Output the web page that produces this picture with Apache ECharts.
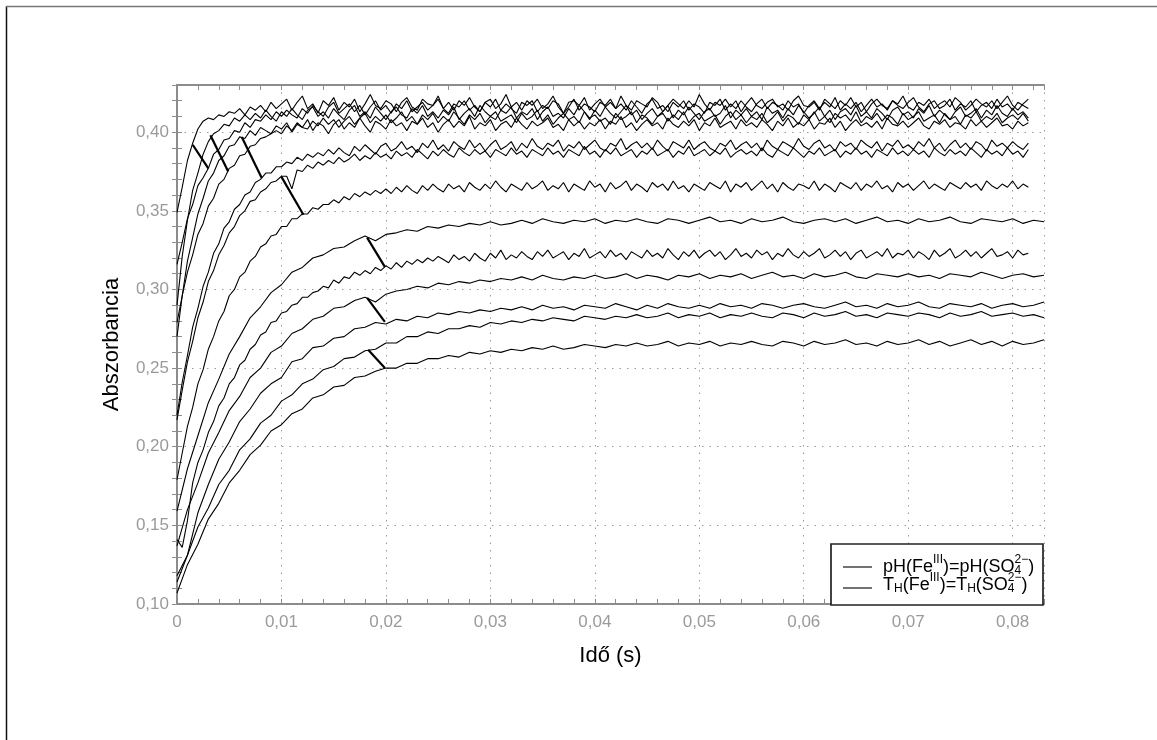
<!DOCTYPE html>
<html>
<head>
<meta charset="utf-8">
<script src="https://cdn.jsdelivr.net/npm/echarts@6/dist/echarts.min.js"></script>
<style>
  html, body { margin: 0; padding: 0; background: #fff; }
  #chart { width: 1157px; height: 740px; }
</style>
</head>
<body>
<div id="chart"></div>
<script>
// Absorbance traces, stored in milli-absorbance units (A x 1000).
// Densely sampled runs: one reading every 0.5 ms starting at t = 0.
const FINE_STEP_S = 0.0005;
// Sparsely sampled runs: one reading every 1 ms starting at t = 0.
const COARSE_STEP_S = 0.001;

const trace01 = [
  349,365,382,393,402,407,409,408,411,410,
  413,412,415,411,416,414,417,413,419,415,
  418,421,414,419,423,415,418,412,420,417,
  422,414,419,416,421,413,418,424,417,415,
  420,418,413,419,422,416,414,421,418,417,
  423,415,419,414,420,417,422,416,413,419,
  421,415,418,424,416,419,414,420,417,421,
  415,418,423,416,412,419,420,417,422,414,
  418,421,416,419,415,423,417,414,420,418,
  416,422,419,413,417,421,418,415,420,416,
  424,418,414,419,417,421,416,420,413,418,
  422,417,415,419,421,416,418,414,420,423,
  417,416,419,414,421,418,415,420,417,422,
  416,419,413,418,421,417,415,420,418,423,
  416,414,419,417,421,415,418,420,416,422,
  419,414,417,421,418,416,420,415,419,423,
  417,414,418,421
];
const trace02 = [
  316,330,345,354,366,371,377,386,389,395,
  396,401,400,406,403,408,407,411,408,413,
  410,414,411,409,415,412,417,413,410,416,
  419,412,415,418,413,417,411,416,420,414,
  417,412,418,415,420,413,416,419,414,417,
  421,415,412,418,416,420,414,417,413,419,
  416,421,414,418,415,412,419,417,420,413,
  417,415,420,418,412,416,421,414,418,416,
  413,419,417,421,415,418,414,420,416,412,
  418,421,415,417,413,419,416,420,414,418,
  416,412,419,417,421,414,418,415,420,416,
  413,418,421,415,419,417,414,420,416,418,
  412,417,420,415,419,416,422,414,418,415,
  419,413,417,421,416,418,414,420,417,415,
  419,422,416,413,418,420,415,417,421,414,
  418,416,420,413,417,419,415,421,416,418,
  414,419,417,415
];
const trace03 = [
  290,321,344,363,374,386,394,399,401,405,
  404,409,407,411,408,412,409,414,410,407,
  413,410,415,411,408,414,416,410,413,409,
  415,411,408,414,417,410,413,409,416,412,
  408,413,416,411,409,415,412,417,410,413,
  409,414,411,416,408,412,415,410,417,413,
  410,408,414,412,416,409,413,411,415,408,
  413,416,410,412,409,415,411,417,413,408,
  414,410,416,412,409,413,417,411,414,408,
  412,415,410,413,417,409,414,411,416,412,
  408,413,415,410,412,417,409,414,411,415,
  410,413,408,416,412,414,409,415,411,417,
  413,409,412,416,410,414,408,413,415,411,
  417,410,413,409,415,412,408,414,416,411,
  413,409,415,412,417,410,414,411,408,413,
  416,410,412,415,409,414,411,417,412,410,
  415,411,413,409
];
const trace04 = [
  279,296,311,322,335,342,353,358,367,370,
  377,379,385,386,391,392,396,397,399,401,
  399,404,401,406,403,402,407,404,409,405,
  408,403,407,410,405,409,412,406,410,407,
  411,406,409,413,407,410,405,411,408,412,
  406,410,407,413,409,405,411,408,412,406,
  410,413,407,409,411,406,412,408,410,414,
  407,411,405,409,412,408,410,406,413,409,
  411,407,409,405,412,408,410,413,406,411,
  409,405,410,412,407,411,408,413,406,410,
  412,407,409,411,405,410,413,408,411,406,
  410,408,412,406,409,413,407,411,409,405,
  411,408,413,407,410,406,412,409,411,407,
  413,406,410,408,412,407,411,409,405,412,
  408,410,413,407,409,411,406,412,408,410,
  405,411,409,413,407,410,408,412,406,409,
  411,408,412,407
];
const trace05 = [
  270,296,318,333,348,358,369,374,382,385,
  391,392,397,396,401,398,403,401,399,404,
  402,406,400,405,403,408,401,406,404,399,
  405,408,402,406,403,409,404,400,407,405,
  402,408,404,406,401,407,405,409,403,406,
  400,405,408,403,407,404,410,402,406,404,
  408,401,405,407,403,409,405,402,407,404,
  406,409,403,405,401,408,404,407,402,406,
  404,408,402,407,405,410,403,406,401,405,
  408,404,406,402,409,405,403,407,404,408,
  401,406,404,409,403,405,407,402,408,404,
  406,403,408,405,401,407,404,409,403,406,
  404,408,402,406,405,409,403,407,401,405,
  408,404,406,403,407,402,409,405,404,407,
  403,406,409,404,402,407,405,408,403,406,
  405,402,408,404,407,403,406,409,404,405,
  402,407,404,406
];
const trace06 = [
  220,241,258,276,288,302,311,323,329,339,
  343,351,354,360,362,368,370,374,374,378,
  378,381,380,384,382,386,384,387,385,389,
  386,390,387,385,391,388,392,389,386,391,
  393,388,390,394,389,391,387,393,390,395,
  389,392,388,394,391,389,395,390,393,388,
  392,395,389,391,394,388,393,390,396,391,
  389,393,391,395,388,392,390,394,389,392,
  395,390,388,393,391,396,389,392,394,390,
  393,389,395,391,388,394,392,390,395,389,
  392,394,390,388,393,391,395,389,392,394,
  390,393,388,395,391,389,394,392,390,396,
  391,389,393,395,390,392,388,394,391,393,
  389,395,392,390,394,388,393,391,395,390,
  392,389,394,391,396,390,393,388,392,395,
  390,393,389,394,392,388,395,391,393,390,
  394,391,389,393
];
const trace07 = [
  217,236,254,267,282,292,305,312,322,328,
  336,340,347,350,356,357,362,364,368,369,
  372,372,364,376,375,379,377,381,379,382,
  380,384,381,383,386,382,385,383,387,384,
  386,383,388,385,387,384,389,386,383,388,
  385,389,386,384,390,387,385,389,386,388,
  384,389,387,385,390,386,388,384,389,387,
  385,390,386,388,384,389,387,385,391,386,
  388,384,389,386,390,385,387,389,384,388,
  386,390,385,387,389,384,388,386,391,385,
  387,389,385,388,386,390,384,387,389,386,
  388,385,390,386,384,389,387,385,390,387,
  384,388,386,390,385,387,389,384,388,386,
  390,386,388,384,389,387,385,390,386,388,
  385,389,386,388,384,390,387,385,389,386,
  388,385,390,387,384,389,386,388,385,390,
  386,388,384,389
];
const trace08 = [
  179,196,213,225,240,249,262,270,280,286,
  296,300,308,311,318,321,327,329,334,335,
  340,340,345,345,348,348,352,351,354,354,
  357,355,359,357,361,359,362,360,363,361,
  364,361,365,362,366,363,361,366,363,367,
  364,362,367,364,366,362,368,365,363,367,
  364,369,365,362,367,365,363,368,364,366,
  369,363,366,364,368,362,367,365,363,369,
  365,367,362,368,364,366,369,363,367,365,
  362,368,365,367,363,369,364,366,362,367,
  365,363,368,366,364,369,362,367,365,368,
  363,366,369,364,367,362,368,365,363,367,
  366,364,369,363,367,365,362,368,366,364,
  368,363,367,365,369,364,366,362,368,365,
  367,363,366,369,364,367,365,363,368,366,
  364,368,365,367,363,369,366,364,367,365,
  369,364,367,365
];
const trace09 = [
  159,186,207,228,243,259,270,282,289,298,
  303,311,314,320,322,326,327,331,334,331,
  335,336,338,337,340,339,341,340,342,341,
  343,341,342,344,342,345,343,342,344,343,
  345,342,344,343,345,343,342,345,344,342,
  344,346,343,344,342,345,343,344,346,343,
  342,344,345,343,345,342,344,346,343,344,
  342,345,343,344,346,343,342,345,344,343,
  345,342,344,343
];
const trace10 = [
  141,136,153,177,190,198,209,216,226,231,
  240,244,252,255,262,265,271,273,279,280,
  285,286,290,291,295,295,298,299,302,301,
  306,304,308,307,311,309,312,310,314,312,
  315,313,317,314,318,316,319,317,320,318,
  321,319,317,322,319,321,318,323,320,318,
  323,320,325,319,322,320,324,321,319,324,
  321,325,320,322,324,319,323,321,326,320,
  322,324,320,325,321,323,319,324,322,320,
  325,321,323,320,326,322,319,324,321,325,
  320,323,325,321,324,319,322,326,321,323,
  320,325,322,324,319,323,321,326,322,320,
  324,321,323,326,320,322,325,321,324,319,
  323,325,320,322,324,321,326,320,323,322,
  325,320,324,322,319,325,321,323,326,320,
  322,325,321,324,320,323,326,321,322,324,
  320,325,322,323
];
const trace11 = [
  137,160,177,196,209,223,232,244,250,260,
  264,272,275,281,283,288,289,293,295,292,
  297,299,300,302,301,304,303,305,304,306,
  305,307,306,308,306,309,307,306,308,307,
  309,307,308,310,307,309,308,306,309,308,
  310,307,309,308,310,307,309,311,308,309,
  307,310,308,309,311,308,307,310,309,308,
  310,308,309,307,310,309,308,311,309,307,
  309,310,308,309
];
const trace12 = [
  118,131,158,176,192,203,216,224,234,240,
  244,254,256,263,264,269,270,275,276,279,
  278,281,280,283,282,285,284,286,285,287,
  286,288,287,289,287,290,288,289,287,290,
  289,288,291,289,287,290,288,291,289,288,
  290,288,291,289,290,288,291,290,288,290,
  291,289,288,290,292,289,290,288,291,289,
  290,292,289,288,291,290,289,291,288,290,
  291,289,290,292
];
const trace13 = [
  114,131,149,161,176,185,198,205,215,220,
  229,233,240,243,249,251,256,257,261,262,
  266,266,270,270,273,272,275,275,277,276,
  279,278,280,279,281,280,282,281,280,283,
  282,281,283,282,284,282,283,285,282,284,
  283,285,282,284,283,285,283,282,285,284,
  282,285,283,284,286,283,284,282,285,284,
  283,285,284,282,285,283,284,286,283,284,
  285,283,284,282
];
const trace14 = [
  107,125,138,154,164,177,185,195,201,210,
  214,221,224,231,233,238,239,244,245,248,
  250,250,253,253,256,256,258,257,260,259,
  261,260,262,261,263,262,264,262,263,265,
  264,263,265,264,266,264,265,267,264,266,
  265,267,264,266,265,267,265,264,267,266,
  264,267,265,266,268,265,266,264,267,265,
  266,268,265,267,264,266,268,265,267,264,
  267,265,266,268
];

const fineTraces = [trace01, trace02, trace03, trace04, trace05, trace06, trace07, trace08, trace10];
const coarseTraces = [trace09, trace11, trace12, trace13, trace14];

// Arrows between paired traces: [t_start (s), A_start, t_end (s), A_end]
const arrows = [
  [0.0015, 0.392, 0.0030, 0.377],
  [0.0032, 0.398, 0.0049, 0.375],
  [0.0062, 0.397, 0.0081, 0.371],
  [0.0100, 0.3716, 0.0121, 0.3475],
  [0.0182, 0.333, 0.0199, 0.3144],
  [0.0182, 0.2947, 0.0199, 0.2794],
  [0.0183, 0.2616, 0.0199, 0.2501]
];

// Axis ranges
const X_MIN = 0, X_MAX = 0.083, X_MAJOR = 0.01, X_MINOR = 0.002;
const Y_MIN = 0.10, Y_MAX = 0.43, Y_MAJOR = 0.05, Y_MINOR = 0.01;

const legendLabels = [
  // [text, font size, baseline shift, no-advance]
  [['pH(Fe', 18, 0], ['III', 12, -9], [')=pH(SO', 18, 0], ['4', 12, 2, true], ['2\u2212', 12, -9], [')', 18, 0]],
  [['T', 18, 0], ['H', 12, 2], ['(Fe', 18, 0], ['III', 12, -9], [')=T', 18, 0], ['H', 12, 2], ['(SO', 18, 0], ['4', 12, 2, true], ['2\u2212', 12, -9], [')', 18, 0]]
];

const FONT = '"Liberation Sans", Arial, Helvetica, sans-serif';
const AXIS_GREY = '#8c8c8c';

function toPoints(values, step) {
  return values.map((v, i) => [Math.round(i * step * 1e5) / 1e5, v / 1000]);
}

function isMultiple(v, step) {
  const q = v / step;
  return Math.abs(q - Math.round(q)) < 1e-6;
}

const series = [];
fineTraces.forEach((tr) => {
  series.push({
    type: 'line', data: toPoints(tr, FINE_STEP_S), showSymbol: false, symbol: 'none',
    xAxisIndex: 0, yAxisIndex: 0, silent: true,
    lineStyle: { color: '#000', width: 1.1 }
  });
});
coarseTraces.forEach((tr) => {
  series.push({
    type: 'line', data: toPoints(tr, COARSE_STEP_S), showSymbol: false, symbol: 'none',
    xAxisIndex: 0, yAxisIndex: 0, silent: true,
    lineStyle: { color: '#000', width: 1.1 }
  });
});
arrows.forEach((a) => {
  series.push({
    type: 'line', data: [[a[0], a[1]], [a[2], a[3]]], showSymbol: false, symbol: 'none',
    xAxisIndex: 0, yAxisIndex: 0, silent: true,
    lineStyle: { color: '#000', width: 2.2 }
  });
});

// Legend text pieces laid out from measured widths
const measureCtx = document.createElement('canvas').getContext('2d');
function buildLabel(runs, x0, baseline) {
  const out = [];
  let x = x0;
  runs.forEach((r) => {
    const [txt, size, dy, stack] = r;
    const font = size + 'px ' + FONT;
    measureCtx.font = font;
    out.push({
      type: 'text', x: x, y: baseline + dy - 0.3465 * size, z: 120,
      style: { text: txt, font: font, fill: '#000', align: 'left', verticalAlign: 'middle',
               textAlign: 'left', textVerticalAlign: 'middle' }
    });
    if (!stack) x += measureCtx.measureText(txt).width;
  });
  return out;
}

const graphics = [
  // outer frame
  { type: 'line', z: 100, shape: { x1: 6.5, y1: 6, x2: 6.5, y2: 740 }, style: { stroke: '#111', lineWidth: 1.5 } },
  { type: 'line', z: 100, shape: { x1: 6, y1: 6.5, x2: 1157, y2: 6.5 }, style: { stroke: '#777', lineWidth: 1.5 } },
  // legend box
  { type: 'rect', z: 110, shape: { x: 831, y: 544, width: 212, height: 61 }, style: { fill: '#fff', stroke: '#222', lineWidth: 1.7 } },
  { type: 'line', z: 115, shape: { x1: 843, y1: 567, x2: 872, y2: 567 }, style: { stroke: '#000', lineWidth: 1.1 } },
  { type: 'line', z: 115, shape: { x1: 843, y1: 588, x2: 872, y2: 588 }, style: { stroke: '#000', lineWidth: 1.1 } }
].concat(buildLabel(legendLabels[0], 883, 573), buildLabel(legendLabels[1], 883, 591));

const tickAxisCommon = {
  type: 'value', axisLabel: { show: false }, splitLine: { show: false },
  axisLine: { show: true, lineStyle: { color: AXIS_GREY, width: 2 } },
  axisTick: { show: true, inside: true, length: 5, lineStyle: { color: AXIS_GREY, width: 1 } }
};

const option = {
  animation: false,
  backgroundColor: '#fff',
  grid: { left: 177, right: 113, top: 85, bottom: 136 },
  xAxis: [
    {
      type: 'value', position: 'bottom', min: X_MIN, max: X_MAX, interval: X_MAJOR,
      name: 'Idő (s)', nameLocation: 'middle', nameGap: 41,
      nameTextStyle: { fontSize: 22, color: '#000', fontFamily: FONT },
      axisLine: { show: false }, axisTick: { show: false },
      axisLabel: {
        color: '#9a9a9a', fontSize: 17, fontFamily: FONT, margin: 10,
        formatter: (v) => {
          if (!isMultiple(v, X_MAJOR)) return '';
          return v === 0 ? '0' : v.toFixed(2).replace('.', ',');
        }
      },
      splitLine: { show: true, lineStyle: { color: '#9a9a9a', width: 1, type: [1.5, 6] } }
    },
    Object.assign({ position: 'bottom', min: X_MIN, max: X_MAX, interval: X_MINOR }, tickAxisCommon),
    Object.assign({ position: 'top', min: X_MIN, max: X_MAX, interval: X_MINOR }, tickAxisCommon)
  ],
  yAxis: [
    {
      type: 'value', position: 'left', min: Y_MIN, max: Y_MAX, interval: Y_MAJOR,
      name: 'Abszorbancia', nameLocation: 'middle', nameGap: 54, nameRotate: 90,
      nameTextStyle: { fontSize: 22, color: '#000', fontFamily: FONT },
      axisLine: { show: false }, axisTick: { show: false },
      axisLabel: {
        color: '#9a9a9a', fontSize: 17, fontFamily: FONT, margin: 8,
        formatter: (v) => isMultiple(v, Y_MAJOR) ? v.toFixed(2).replace('.', ',') : ''
      },
      splitLine: { show: true, lineStyle: { color: '#9a9a9a', width: 1, type: [1.5, 6] } }
    },
    Object.assign({ position: 'left', min: Y_MIN, max: Y_MAX, interval: Y_MINOR }, tickAxisCommon),
    Object.assign({ position: 'right', min: Y_MIN, max: Y_MAX, interval: Y_MINOR }, tickAxisCommon)
  ],
  series: series,
  graphic: graphics
};

const chart = echarts.init(document.getElementById('chart'), null, { renderer: 'canvas' });
chart.setOption(option);
</script>
</body>
</html>
